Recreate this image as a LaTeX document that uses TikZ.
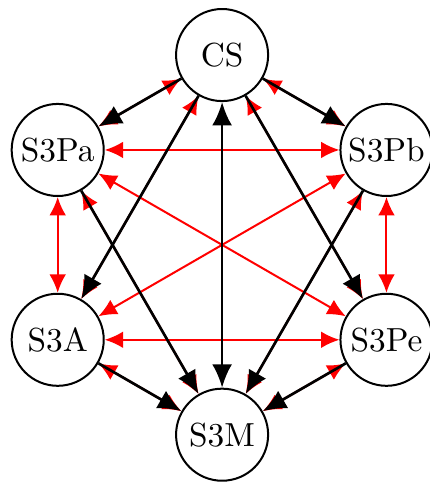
\documentclass[tikz,border=0pt]{standalone}
\usetikzlibrary{arrows.meta}
\usetikzlibrary{positioning}

\begin{document}
\begin{tikzpicture}[every node/.style={draw,circle,semithick,minimum size=0.97cm,inner sep=1pt},
  rtip/.tip={Latex[length=5.5pt,width=5pt]},
  btip/.tip={Latex[length=7pt,width=6pt]},
  redlink/.style={rtip-rtip,red,semithick},
  blacklink/.style={-btip,thick}]
  \useasboundingbox (-2.34,-2.53) rectangle (2.18,2.58);
  \node (cs) at (90:2) {CS};
  \node (pa) at (150:2) {S3Pa};
  \node (pb) at (30:2) {S3Pb};
  \node (a) at (210:2) {S3A};
  \node (pe) at (-30:2) {S3Pe};
  \node (m) at (-90:2) {S3M};
  % red links go underneath
  \draw[redlink](cs)--(pa);
  \draw[redlink](cs)--(pb);
  \draw[redlink](cs)--(a);
  \draw[redlink](cs)--(pe);
  \draw[redlink](m)--(pa);
  \draw[redlink](m)--(pb);
  \draw[redlink](m)--(a);
  \draw[redlink](m)--(pe);
  \draw[redlink](pa)--(pb);
  \draw[redlink](pa)--(a);
  \draw[redlink](pa)--(pe);
  \draw[redlink](pb)--(a);
  \draw[redlink](pb)--(pe);
  \draw[redlink](a)--(pe);
  % black links on top
  \draw[blacklink](cs)--(pa);
  \draw[blacklink](cs)--(pb);
  \draw[blacklink](cs)--(a);
  \draw[blacklink](cs)--(pe);
  \draw[blacklink](pa)--(m);
  \draw[blacklink](pb)--(m);
  \draw[blacklink](a)--(m);
  \draw[blacklink](pe)--(m);
  \draw[btip-btip,thick](cs)--(m);
\end{tikzpicture}
\end{document}
